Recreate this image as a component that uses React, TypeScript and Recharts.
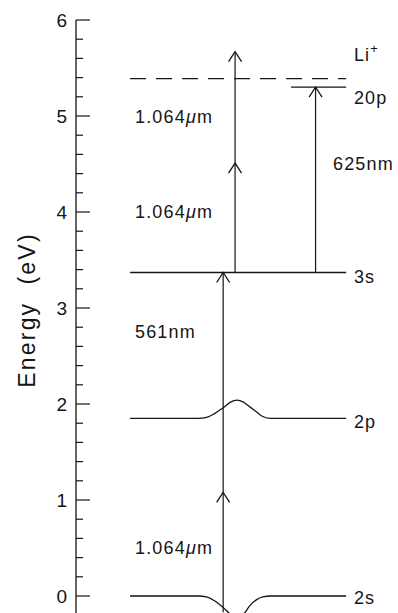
import { ComposedChart, Line, XAxis, YAxis, ReferenceLine, ReferenceDot, Label } from "recharts";

const FONT = "'Liberation Sans', Arial, Helvetica, sans-serif";
const INK = "#151515";

// energy axis (eV), labelled on whole numbers
const yTicks = [
  0, 0.2, 0.4, 0.6, 0.8, 1, 1.2, 1.4, 1.6, 1.8, 2, 2.2, 2.4, 2.6, 2.8, 3,
  3.2, 3.4, 3.6, 3.8, 4, 4.2, 4.4, 4.6, 4.8, 5, 5.2, 5.4, 5.6, 5.8, 6,
];

// level lines, x in arbitrary units 0..100
const levelX = [16.8, 83.9];
const bumpX = [16.8, 38, 40.5, 43, 45.7, 48, 50, 52, 54, 56, 58, 60.5, 83.9];
const e2s = [0, 0, -0.01, -0.05, -0.12, -0.19, -0.22, -0.19, -0.1, -0.04, -0.01, 0, 0];
const e2p = [1.85, 1.85, 1.86, 1.9, 1.96, 2.02, 2.04, 2.02, 1.97, 1.92, 1.87, 1.85, 1.85];
const e3s = [3.37, 3.37];
const x20p = [66.8, 83.9];
const e20p = [5.3, 5.3];
const eIon = [5.39, 5.39];

// photon arrows
const arrowX = [45.7, 49.4, 74.4];
const arrowFrom = [-0.17, 3.37, 3.37];
const arrowTo = [3.37, 5.67, 5.3];
const headX = [45.7, 45.7, 49.4, 49.4, 74.4];
const headE = [1.08, 3.37, 4.51, 5.67, 5.3];

// annotations
const leftText = ["1.064μm", "1.064μm", "561nm", "1.064μm"];
const leftE = [4.99, 4.0, 2.75, 0.5];
const rightText = ["Li+", "20p", "625nm", "3s", "2p", "2s"];
const rightX = [86.3, 86.3, 79.8, 86.3, 86.3, 86.3];
const rightE = [5.64, 5.19, 4.5, 3.32, 1.81, -0.02];

const pts = (xs: number[], es: number[]) => xs.map((x, i) => ({ x, e: es[i] }));

function EnergyTick(props: any) {
  const { x, y, payload } = props;
  const v = payload.value;
  const major = Math.abs(v - Math.round(v)) < 1e-6;
  return (
    <g>
      <line x1={x} x2={x + (major ? 14 : 7)} y1={y} y2={y} stroke={INK} strokeWidth={1.2} />
      {major && (
        <text x={x - 9} y={y} textAnchor="end" dominantBaseline="central" fontSize={19} fontFamily={FONT} fill={INK}>
          {Math.round(v)}
        </text>
      )}
    </g>
  );
}

function AxisTitle() {
  return (
    <text
      x={27}
      y={310}
      transform="rotate(-90, 27, 310)"
      textAnchor="middle"
      dominantBaseline="central"
      fontSize={23}
      letterSpacing={2.2}
      fontFamily={FONT}
      fill={INK}
      style={{ whiteSpace: "pre" }}
    >
      {"Energy  (eV)"}
    </text>
  );
}

const head = (p: any) => (
  <path
    d={`M${p.cx - 6.5},${p.cy + 10}L${p.cx},${p.cy}L${p.cx + 6.5},${p.cy + 10}`}
    fill="none"
    stroke={INK}
    strokeWidth={1.3}
  />
);

const note = (label: string) => (p: any) => {
  let body: any = label;
  if (label.includes("μ")) {
    const [a, b] = label.split("μ");
    body = (
      <>
        {a}
        <tspan fontStyle="italic">μ</tspan>
        {b}
      </>
    );
  } else if (label.endsWith("+")) {
    body = (
      <>
        {label.slice(0, -1)}
        <tspan dy={-7} fontSize={13}>+</tspan>
      </>
    );
  }
  return (
    <text x={p.cx} y={p.cy} dominantBaseline="central" fontSize={18} letterSpacing={1.2} fontFamily={FONT} fill={INK}>
      {body}
    </text>
  );
};

export default function App() {
  const lineProps = { dataKey: "e", dot: false, stroke: INK, strokeWidth: 1.3, isAnimationActive: false, activeDot: false } as const;
  return (
    <div style={{ position: "absolute", left: 0, top: 0, background: "#fff" }}>
      <ComposedChart width={398} height={613} margin={{ top: 20, right: 0, bottom: 0, left: 0 }}>
        <XAxis dataKey="x" type="number" domain={[0, 100]} allowDataOverflow hide />
        <YAxis
          type="number"
          domain={[-0.177, 6]}
          allowDataOverflow
          ticks={yTicks}
          interval={0}
          width={76}
          tickSize={0}
          tickMargin={0}
          tickLine={false}
          axisLine={{ stroke: INK, strokeWidth: 1.3 }}
          tick={EnergyTick}
        >
          <Label content={AxisTitle} />
        </YAxis>
        <Line data={pts(bumpX, e2s)} type="monotone" {...lineProps} />
        <Line data={pts(bumpX, e2p)} type="monotone" {...lineProps} />
        <Line data={pts(levelX, e3s)} type="linear" {...lineProps} />
        <Line data={pts(x20p, e20p)} type="linear" {...lineProps} />
        <Line data={pts(levelX, eIon)} type="linear" {...lineProps} strokeDasharray="16 10" />
        {arrowX.map((x, i) => (
          <ReferenceLine
            key={`a${i}`}
            segment={[
              { x, y: arrowFrom[i] },
              { x, y: arrowTo[i] },
            ]}
            stroke={INK}
            strokeWidth={1.2}
          />
        ))}
        {headX.map((x, i) => (
          <ReferenceDot key={`h${i}`} x={x} y={headE[i]} shape={head} />
        ))}
        {leftText.map((t, i) => (
          <ReferenceDot key={`l${i}`} x={18.3} y={leftE[i]} shape={note(t)} />
        ))}
        {rightText.map((t, i) => (
          <ReferenceDot key={`r${i}`} x={rightX[i]} y={rightE[i]} shape={note(t)} />
        ))}
      </ComposedChart>
    </div>
  );
}
